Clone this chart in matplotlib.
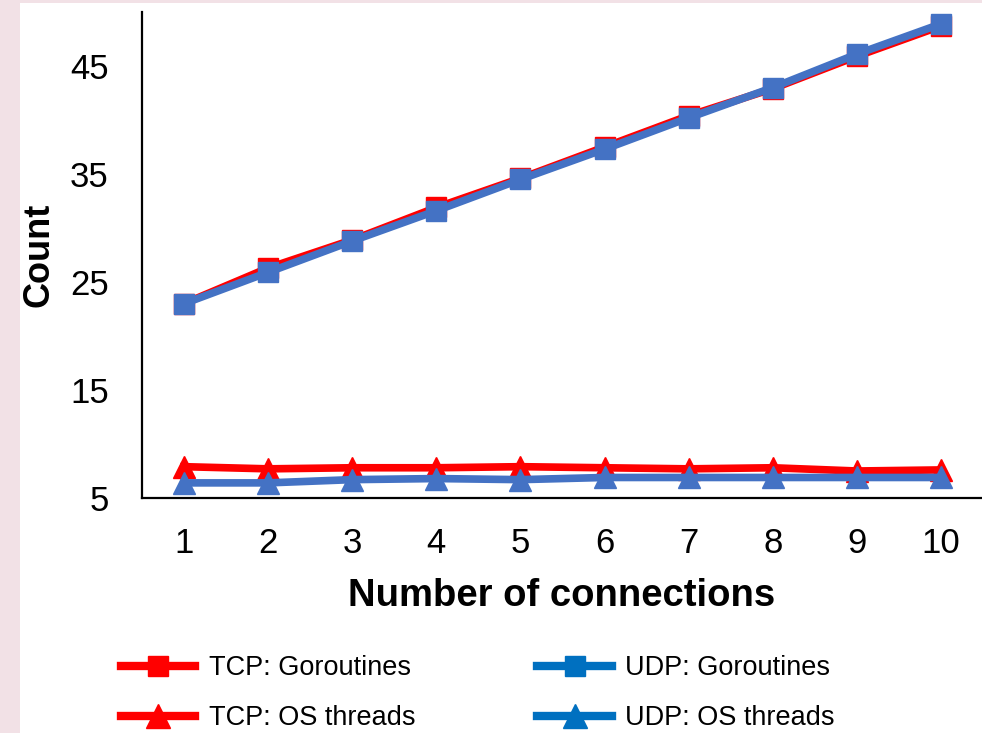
import matplotlib
matplotlib.use("Agg")
import matplotlib.pyplot as plt
from matplotlib.lines import Line2D
from matplotlib.patches import Rectangle

plt.rcParams['font.family'] = ['Liberation Sans', 'DejaVu Sans']

connections = [1, 2, 3, 4, 5, 6, 7, 8, 9, 10]
tcp_goroutines = [23.0, 26.3, 28.9, 31.9, 34.6, 37.5, 40.4, 42.9, 45.9, 48.7]
udp_goroutines = [23.0, 25.9, 28.8, 31.6, 34.5, 37.3, 40.2, 43.0, 46.1, 48.9]
tcp_os_threads = [7.9, 7.7, 7.8, 7.8, 7.9, 7.8, 7.7, 7.8, 7.5, 7.6]
udp_os_threads = [6.4, 6.4, 6.7, 6.8, 6.7, 6.9, 6.9, 6.9, 6.9, 6.9]
y_ticks = [5, 15, 25, 35, 45]

RED = '#FF0000'
BLUE = '#4472C4'
LEG_BLUE = '#0070C0'

W, H = 982, 733
fig = plt.figure(figsize=(W / 100, H / 100), dpi=100)
fig.patch.set_facecolor('#F2E1E6')
fig.patches.append(Rectangle((20 / W, 0), 1 - 20 / W, 1 - 3 / H, transform=fig.transFigure,
                             facecolor='white', edgecolor='none', zorder=-10))

AX_W = 983 - 142
AX_H = 498 - 12
ax = fig.add_axes([142 / W, 1 - 498 / H, AX_W / W, AX_H / H])
ax.set_facecolor('none')

lw = 5.5
ms = 14
ax.plot(connections, tcp_os_threads, color=RED, lw=lw, marker='^', ms=ms + 2, zorder=3, clip_on=False)
ax.plot(connections, udp_os_threads, color=BLUE, lw=lw, marker='^', ms=ms + 2, zorder=4, clip_on=False)
ax.plot(connections, tcp_goroutines, color=RED, lw=lw, marker='s', ms=ms, zorder=5, clip_on=False)
ax.plot(connections, udp_goroutines, color=BLUE, lw=lw, marker='s', ms=ms, zorder=6, clip_on=False)

ax.set_xlim(0.5, 10.5)
ax.set_ylim(5, 50)
ax.set_xticks(connections)
ax.set_yticks(y_ticks)
ax.tick_params(axis='both', length=0, labelsize=25)
ax.tick_params(axis='y', pad=24)
ax.tick_params(axis='x', pad=21)
for s in ['top', 'right']:
    ax.spines[s].set_visible(False)
for s in ['left', 'bottom']:
    ax.spines[s].set_linewidth(1.6)
    ax.spines[s].set_color('black')

ax.set_ylabel('Count', fontsize=26, fontweight='bold')
ax.set_xlabel('Number of connections', fontsize=27.5, fontweight='bold')
ax.yaxis.set_label_coords((56 - 142) / AX_W, 0.5)
ax.xaxis.set_label_coords((562 - 142) / AX_W, (498 - 578) / AX_H)

handles = [
    Line2D([], [], color=RED, lw=lw + 0.5, marker='s', ms=ms + 1),
    Line2D([], [], color=RED, lw=lw + 0.5, marker='^', ms=ms + 3),
    Line2D([], [], color=LEG_BLUE, lw=lw + 0.5, marker='s', ms=ms + 1),
    Line2D([], [], color=LEG_BLUE, lw=lw + 0.5, marker='^', ms=ms + 3),
]
labels = ['TCP: Goroutines', 'TCP: OS threads', 'UDP: Goroutines', 'UDP: OS threads']
fig.legend(handles, labels, ncol=2, loc='upper left', bbox_to_anchor=(121 / W, 1 - 655 / H),
           frameon=False, fontsize=19.5, handlelength=2.75, handletextpad=0.5,
           columnspacing=4.5, labelspacing=0.9, borderaxespad=0, borderpad=0)

fig.savefig('out.png', dpi=100, facecolor=fig.get_facecolor())
